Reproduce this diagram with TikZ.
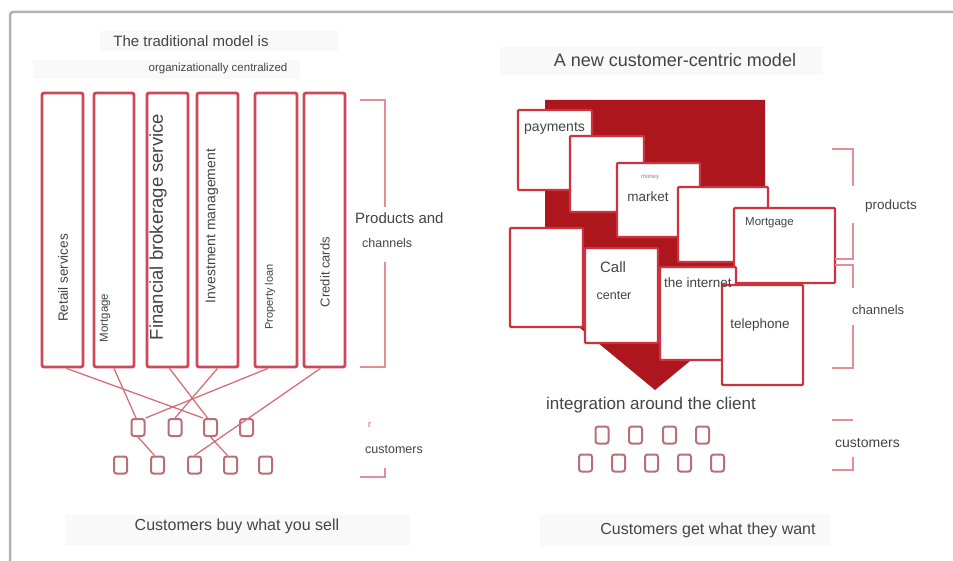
\documentclass[tikz,border=0pt]{standalone}
\usepackage{fontspec}
\setmainfont{Liberation Sans}
\usetikzlibrary{fit,calc}

\definecolor{frameg}{RGB}{178,178,178}
\definecolor{boxred}{RGB}{205,72,88}
\definecolor{linkred}{RGB}{212,112,122}
\definecolor{brkc}{RGB}{226,142,152}
\definecolor{deepred}{RGB}{172,22,28}
\definecolor{cardred}{RGB}{205,50,62}
\definecolor{custc}{RGB}{182,112,118}
\definecolor{txt}{RGB}{68,68,68}
\definecolor{bandc}{RGB}{249,249,249}

\newcommand\fsz[1]{\fontsize{#1pt}{#1pt}\selectfont}

\begin{document}
\begin{tikzpicture}[x=1pt,y=-1pt,
  every node/.style={text=txt, inner sep=0pt},
  prodbox/.style={draw=boxred, line width=2.8pt, rounded corners=2pt, fill=white, inner sep=0pt},
  vtext/.style={rotate=90},
  link/.style={draw=linkred, line width=1.3pt},
  custbox/.style={draw=custc, line width=2pt, rounded corners=2.5pt, minimum width=13pt, minimum height=17pt},
  card/.style={draw=cardred, line width=2.4pt, fill=white, rounded corners=1pt, inner sep=0pt},
  brk/.style={draw=brkc, line width=1.5pt},
  band/.style={fill=bandc}]

\useasboundingbox (0,0) rectangle (953,561);
\fill[white] (0,0) rectangle (953,561);

% outer frame
\draw[frameg, line width=2.5pt, rounded corners=3pt] (10,561) -- (10,12) -- (953,12);

% faint label bands
\fill[band] (100,31) rectangle (338,51);
\fill[band] (33,60) rectangle (300,79);
\fill[band] (500,47) rectangle (823,75);
\fill[band] (65,515) rectangle (410,545);
\fill[band] (540,514) rectangle (830,546);

% ---------------- traditional model ----------------
\node[font=\fsz{15}] (ttl) at (191,41) {The traditional model is};
\node[font=\fsz{11.5}] (ttl2) at (218,69) {organizationally centralized};

\node[prodbox, fit={(42,93) (83,367)}] (b1) {};
\node[prodbox, fit={(94,93) (134,367)}] (b2) {};
\node[prodbox, fit={(147,93) (188,367)}] (b3) {};
\node[prodbox, fit={(197,93) (238,367)}] (b4) {};
\node[prodbox, fit={(255,93) (297,367)}] (b5) {};
\node[prodbox, fit={(304,93) (345,367)}] (b6) {};

\node[vtext, font=\fsz{13.5}] (l1) at (63,278) {Retail services};
\node[vtext, font=\fsz{11.5}] (l2) at (105,318) {Mortgage};
\node[vtext, font=\fsz{18.5}] (l3) at (158,227) {Financial brokerage service};
\node[vtext, font=\fsz{14}] (l4) at (212,226) {Investment management};
\node[vtext, font=\fsz{11}] (l5) at (270,297) {Property loan};
\node[vtext, font=\fsz{13}] (l6) at (325,272) {Credit cards};

% customers (left)
\foreach \n/\x in {1/138,2/175,3/210.5,4/246.5}
  \node[custbox] (s1\n) at (\x,427.5) {};
\foreach \n/\x in {1/120.5,2/157.5,3/194.5,4/230.5,5/265.5}
  \node[custbox] (s2\n) at (\x,465) {};

% product-to-customer links
\draw[link] ($(b1.south)+(4,0)$) -- (s13.north west);
\draw[link] (b2.south) -- ($(s11.north)+(-2,0)$);
\draw[link] ($(b3.south)+(2,0)$) -- ($(s13.north)+(-3,0)$);
\draw[link] (b4.south) -- (s12.north);
\draw[link] ($(b5.south)+(-8,0)$) -- (s11.north east);
\draw[link] ($(b6.south)+(-4,0)$) -- (s23.north);
\draw[link] (s11.south) -- ($(s22.north)+(-3,0)$);
\draw[link] (s13.south) -- ($(s24.north)+(-3,0)$);

% brackets (left)
\draw[brk] (360,100) -- (385,100) -- (385,207);
\draw[brk] (385,262) -- (385,367) -- (360,367);
\draw[brk] (385,468) -- (385,477) -- (360,477);
\node[font=\fsz{15}, anchor=west] (pc1) at (355,218) {Products and};
\node[font=\fsz{12.5}, anchor=west] (pc2) at (362,243) {channels};
\node[font=\fsz{9}, text=boxred, anchor=west] (rr) at (368,425) {r};
\node[font=\fsz{12.5}, anchor=west] (cu1) at (365,450) {customers};

\node[font=\fsz{16}] (foot1) at (237,526) {Customers buy what you sell};

% ---------------- customer-centric model ----------------
\node[font=\fsz{18}] (ttr) at (675,60) {A new customer-centric model};

% integration block behind the cards
\fill[deepred] (545,100) -- (765,100) -- (765,299) -- (655,390) -- (545,299) -- cycle;

\node[card, fit={(518,110) (592,190)}] (pay) {};
\node[card, fit={(570,136) (644,212)}] (k2) {};
\node[card, fit={(617,163) (700,237)}] (mkt) {};
\node[card, fit={(678,187) (768,262)}] (k4) {};
\node[card, fit={(734,208) (835,283)}] (mort) {};
\node[card, fit={(510,228) (583,327)}] (k6) {};
\node[card, fit={(585,248) (658,343)}] (call) {};
\node[card, fit={(660,267) (736,360)}] (net) {};
\node[card, fit={(722,285) (803,385)}] (tel) {};

\node[font=\fsz{14}, anchor=west] (tpay) at (524,128) {payments};
\node[font=\fsz{6}, text=gray] (tmon) at (650,178) {money};
\node[font=\fsz{13.5}] (tmkt) at (648,197) {market};
\node[font=\fsz{11.5}, anchor=west] (tmort) at (745,223) {Mortgage};
\node[font=\fsz{15}] (tcall) at (613,267) {Call};
\node[font=\fsz{12.5}] (tcen) at (614,296) {center};
\node[font=\fsz{13.5}, anchor=west] (tnet) at (664,283) {the internet};
\node[font=\fsz{13.5}] (ttel) at (760,325) {telephone};

\node[font=\fsz{17}] (integ) at (651,405) {integration around the client};

% customers (right)
\foreach \n/\x in {1/602,2/635.5,3/669.5,4/702.5}
  \node[custbox] (c1\n) at (\x,435) {};
\foreach \n/\x in {1/585.5,2/618.5,3/651.5,4/684.5,5/717.5}
  \node[custbox] (c2\n) at (\x,463) {};

% brackets (right)
\draw[brk] (832,149) -- (853,149) -- (853,186);
\draw[brk] (853,223) -- (853,259) -- (835,259);
\draw[brk] (835,265) -- (853,265) -- (853,288);
\draw[brk] (853,325) -- (853,368) -- (832,368);
\draw[brk] (832,420) -- (853,420);
\draw[brk] (853,457) -- (853,470) -- (832,470);
\node[font=\fsz{13.5}, anchor=west] (tprod) at (865,206) {products};
\node[font=\fsz{13}, anchor=west] (tchan) at (852,310) {channels};
\node[font=\fsz{14}, anchor=west] (tcus) at (835,443) {customers};

\node[font=\fsz{16}] (foot2) at (708,530) {Customers get what they want};
\end{tikzpicture}
\end{document}
